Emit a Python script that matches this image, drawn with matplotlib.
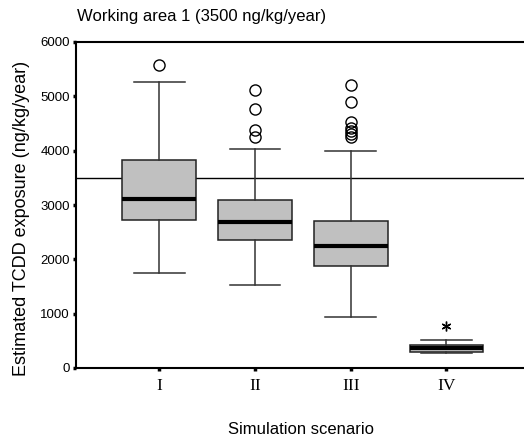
import matplotlib
matplotlib.use("Agg")
import matplotlib.pyplot as plt

scenarios = ["I", "II", "III", "IV"]
whisker_low = [1741, 1520, 947, 271]
q1 = [2732, 2357, 1870, 301]
median = [3107, 2690, 2246, 360]
q3 = [3834, 3101, 2708, 419]
whisker_high = [5261, 4030, 3993, 511]
outliers_circle = [[5575], [5114, 4763, 4375, 4251],
                   [5206, 4898, 4529, 4425, 4363, 4301, 4251], []]
outliers_star = [[], [], [], [781]]
reference_level = 3500

fig = plt.figure(figsize=(5.24, 4.43), dpi=100)
ax = fig.add_axes([76/524, 75/443, 448/524, 326/443])

stats = []
for i, s in enumerate(scenarios):
    stats.append(dict(label=s, whislo=whisker_low[i], q1=q1[i], med=median[i],
                      q3=q3[i], whishi=whisker_high[i], fliers=outliers_circle[i]))

positions = list(range(1, len(scenarios) + 1))
ax.bxp(stats, positions=positions, widths=0.77, patch_artist=True,
       boxprops=dict(facecolor="#c0c0c0", edgecolor="#222222", linewidth=1.1),
       medianprops=dict(color="black", linewidth=3),
       whiskerprops=dict(color="#333333", linewidth=1.1),
       capprops=dict(color="#333333", linewidth=1.1),
       capwidths=0.53,
       flierprops=dict(marker="o", markersize=8, markerfacecolor="none",
                       markeredgecolor="black", markeredgewidth=1.0))

for i, vals in enumerate(outliers_star):
    if vals:
        ax.plot([positions[i]] * len(vals), vals, linestyle="none",
                marker=(6, 2, 0), markersize=7, color="black", markeredgewidth=1.0)

ax.axhline(reference_level, color="black", linewidth=1.0, zorder=0.5)

ax.set_xlim(0.13, 4.81)
ax.set_ylim(0, 6000)
ax.set_yticks([0, 1000, 2000, 3000, 4000, 5000, 6000])
ax.set_xticks(positions)
ax.set_xticklabels(scenarios, fontfamily="Liberation Serif", fontsize=12.5)
for lab in ax.get_yticklabels():
    lab.set_fontfamily("Liberation Sans")
    lab.set_fontsize(9.5)

ax.spines["right"].set_visible(False)
for sp in ["left", "top", "bottom"]:
    ax.spines[sp].set_linewidth(1.5)
ax.tick_params(axis="y", direction="out", length=2.5, width=2.5, pad=2)
ax.tick_params(axis="x", direction="out", length=2.5, width=2.5, pad=5)

fig.text(77/524, 1 - 17/443, "Working area 1 (3500 ng/kg/year)",
         fontfamily="Liberation Sans", fontsize=12, ha="left", va="center")
fig.text(22/524, 1 - 218/443, "Estimated TCDD exposure (ng/kg/year)",
         fontfamily="Liberation Sans", fontsize=13, ha="center", va="center",
         rotation=90)
fig.text(301/524, 1 - 430/443, "Simulation scenario",
         fontfamily="Liberation Sans", fontsize=12, ha="center", va="center")

fig.savefig("out.png", dpi=100)
